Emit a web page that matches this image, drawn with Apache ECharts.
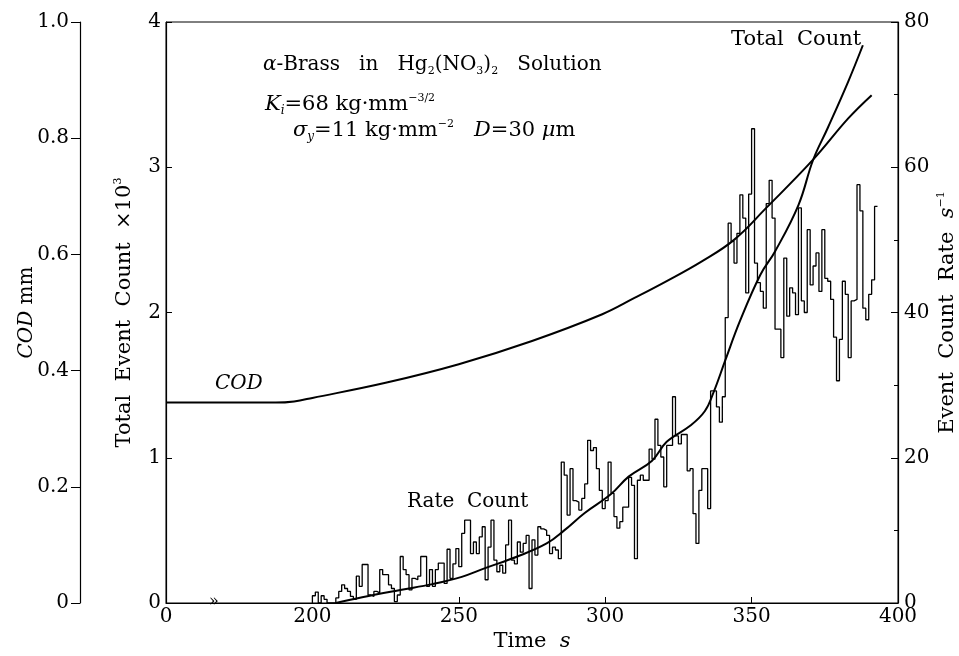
<!DOCTYPE html>
<html>
<head>
<meta charset="utf-8">
<script src="https://cdn.jsdelivr.net/npm/echarts@6/dist/echarts.min.js"></script>
<style>
  html, body { margin: 0; padding: 0; background: #fff; }
  #chart { width: 959px; height: 656px; }
</style>
</head>
<body>
<div id="chart"></div>
<script>
// time axis is broken: 0..200 s is squeezed into one tick step
var timeTicks = [0, 200, 250, 300, 350, 400];

// COD (mm)
var codTimes = [0, 150, 175, 200, 225, 250, 275, 299, 310, 321, 333, 344, 355, 371, 383, 391];
var codValues = [0.345, 0.345, 0.347, 0.353, 0.379, 0.411, 0.451, 0.497, 0.525, 0.554, 0.588, 0.625, 0.68, 0.763, 0.834, 0.874];

// total event count (x10^3)
var totalTimes = [208, 217, 230, 241, 251, 259, 270, 280, 286, 293, 302, 308, 316, 321, 329, 334, 337, 341, 346, 353, 358, 366, 371, 376, 383, 388];
var totalValues = [0, 0.04, 0.09, 0.13, 0.18, 0.24, 0.32, 0.41, 0.50, 0.62, 0.75, 0.87, 0.98, 1.11, 1.22, 1.32, 1.45, 1.67, 1.94, 2.26, 2.42, 2.74, 3.05, 3.27, 3.59, 3.84];

// event count rate (1/s), one value per 1 s bin starting at rateStart
var rateStart = 200;
var rateValues = [
  1.0, 1.5, 0, 1.0, 0.5, 0, 0, 0, 0.7, 1.6,
  2.5, 2.0, 1.6, 0.9, 0.5, 3.7, 2.3, 5.3, 5.3, 1.1,
  0.9, 1.6, 1.4, 4.6, 3.9, 3.9, 2.5, 2.0, 0.2, 1.1,
  6.4, 4.6, 3.9, 1.8, 3.4, 3.2, 3.7, 6.4, 6.4, 2.3,
  4.6, 2.3, 4.6, 5.5, 5.5, 2.7, 7.4, 3.4, 5.4, 7.5,
  5.0, 9.6, 11.4, 11.4, 6.8, 8.4, 6.8, 9.1, 10.5, 3.2,
  7.7, 11.4, 5.9, 4.3, 5.2, 4.1, 8.0, 11.4, 5.9, 5.4,
  8.4, 7.0, 8.2, 9.3, 2.0, 8.7, 6.6, 10.5, 10.2, 10.0,
  9.3, 6.8, 7.7, 7.3, 6.1, 19.4, 17.6, 12.1, 18.5, 14.1,
  13.9, 12.8, 14.4, 16.4, 22.4, 21.0, 21.4, 18.5, 15.5, 13.0,
  14.1, 19.4, 15.1, 11.9, 10.3, 11.2, 13.2, 13.2, 17.3, 16.2,
  6.1, 16.9, 17.6, 16.9, 16.9, 21.2, 19.8, 25.3, 21.7, 20.1,
  16.0, 21.7, 21.7, 28.4, 23.0, 21.9, 23.2, 23.2, 18.2, 18.5,
  12.3, 8.2, 15.5, 18.5, 18.5, 13.0, 29.2, 29.2, 27.0, 24.9,
  28.4, 39.3, 52.3, 49.8, 46.8, 50.9, 56.2, 53.0, 42.7, 56.3,
  65.3, 46.8, 44.1, 42.9, 40.6, 55.0, 58.2, 53.0, 37.7, 37.7,
  33.8, 47.5, 39.5, 43.4, 42.7, 39.7, 54.4, 41.6, 40.0, 51.4,
  43.8, 46.4, 48.2, 42.9, 51.4, 44.7, 44.3, 41.8, 36.6, 30.6,
  36.3, 44.3, 42.5, 33.8, 41.6, 41.8, 57.6, 54.0, 40.6, 39.0,
  42.5, 44.5, 54.6
];

var FONT = '"DejaVu Serif", "Liberation Serif", serif';

// 0..200 s is drawn in the space of one 50 s step
function toAxis(t) {
  return t < 200 ? 150 + t / 4 : t;
}

var codData = codTimes.map(function (t, i) { return [toAxis(t), codValues[i]]; });
var totalData = totalTimes.map(function (t, i) { return [toAxis(t), totalValues[i]]; });
var rateData = [[rateStart, 0]];
rateValues.forEach(function (v, i) { rateData.push([rateStart + i, v]); });
rateData.push([rateStart + rateValues.length, rateValues[rateValues.length - 1]]);

function makeRich(size) {
  return {
    i: { fontFamily: FONT, fontSize: size, fontStyle: 'italic', lineHeight: 24 },
    n: { fontFamily: FONT, fontSize: size, lineHeight: 24 },
    sup: { fontFamily: FONT, fontSize: 11, lineHeight: 11, verticalAlign: 'top' },
    sub: { fontFamily: FONT, fontSize: 11, lineHeight: 11, verticalAlign: 'bottom' },
    isub: { fontFamily: FONT, fontSize: 12, fontStyle: 'italic', lineHeight: 12, verticalAlign: 'bottom' }
  };
}
var rich = makeRich(20);
var richBig = makeRich(21);

var chart = echarts.init(document.getElementById('chart'));
var option = {
  backgroundColor: '#fff',
  animation: false,
  grid: {
    left: 166, right: 61, top: 22, bottom: 53,
    outerBoundsMode: 'none', containLabel: false,
    show: true, borderColor: '#000', borderWidth: 1
  },
  xAxis: {
    type: 'value',
    min: 150, max: 400, interval: 50,
    name: '{n|Time  }{i|s}',
    nameLocation: 'middle',
    nameGap: 27,
    nameMoveOverlap: false,
    nameTextStyle: { rich: richBig },
    axisLine: { show: true, lineStyle: { color: '#000', width: 1.2 } },
    axisTick: { show: true, inside: true, length: 6, lineStyle: { color: '#000' } },
    axisLabel: {
      color: '#000', fontFamily: FONT, fontSize: 20, margin: 4,
      formatter: function (v) { return v === 150 ? String(timeTicks[0]) : String(v); }
    },
    splitLine: { show: false }
  },
  yAxis: [
    {
      type: 'value', position: 'left', offset: 86,
      min: 0, max: 1, interval: 0.2,
      name: '{i|COD}{n| mm}',
      nameLocation: 'middle', nameRotate: 90, nameGap: 41,
      nameMoveOverlap: false,
      nameTextStyle: { rich: rich },
      axisLine: { show: true, lineStyle: { color: '#000', width: 1.2 } },
      axisTick: { show: true, inside: false, length: 9, lineStyle: { color: '#000' } },
      axisLabel: {
        color: '#000', fontFamily: FONT, fontSize: 20, margin: 11,
        formatter: function (v) { return v === 0 ? '0' : v.toFixed(1); }
      },
      splitLine: { show: false }
    },
    {
      type: 'value', position: 'left',
      min: 0, max: 4, interval: 1,
      name: '{n|Total  Event  Count  ×10}{sup|3}',
      nameLocation: 'middle', nameRotate: 90, nameGap: 29,
      nameMoveOverlap: false,
      nameTextStyle: { rich: richBig },
      axisLine: { show: true, lineStyle: { color: '#000', width: 1.2 } },
      axisTick: { show: true, inside: true, length: 6, lineStyle: { color: '#000' } },
      axisLabel: { color: '#000', fontFamily: FONT, fontSize: 20, margin: 5 },
      splitLine: { show: false }
    },
    {
      type: 'value', position: 'right',
      min: 0, max: 80, interval: 20,
      name: '{n|Event  Count  Rate  }{i|s}{sup|−1}',
      nameLocation: 'middle', nameRotate: 90, nameGap: 38,
      nameMoveOverlap: false,
      nameTextStyle: { rich: richBig },
      axisLine: { show: true, lineStyle: { color: '#000', width: 1.2 } },
      axisTick: { show: true, inside: true, length: 7, lineStyle: { color: '#000' } },
      minorTick: { show: true, splitNumber: 2, length: 4, lineStyle: { color: '#000' } },
      axisLabel: { color: '#000', fontFamily: FONT, fontSize: 20, margin: 6 },
      splitLine: { show: false }
    }
  ],
  series: [
    {
      name: 'COD', type: 'line', yAxisIndex: 0, data: codData,
      smooth: 0.4, symbol: 'none',
      lineStyle: { color: '#000', width: 2 }
    },
    {
      name: 'Total Count', type: 'line', yAxisIndex: 1, data: totalData,
      smooth: 0.4, symbol: 'none',
      lineStyle: { color: '#000', width: 2 }
    },
    {
      name: 'Rate Count', type: 'line', yAxisIndex: 2, data: rateData,
      step: 'end', symbol: 'none',
      lineStyle: { color: '#000', width: 1.3 }
    }
  ],
  graphic: [
    { type: 'text', left: 209, top: 594, style: { text: '»', font: '16px ' + FONT, fill: '#000' } },
    { type: 'text', left: 215, top: 374, style: { text: '{i|COD}', rich: rich } },
    { type: 'text', left: 407, top: 492, style: { text: '{n|Rate  Count}', rich: rich } },
    { type: 'text', left: 731, top: 29, style: { text: '{n|Total  Count}', rich: richBig } },
    { type: 'text', left: 263, top: 55, style: {
      text: '{i|α}{n|-Brass   in   Hg}{sub|2}{n|(NO}{sub|3}{n|)}{sub|2}{n|   Solution}', rich: rich } },
    { type: 'text', left: 265, top: 93, style: {
      text: '{i|K}{isub|i}{n|=68 kg·mm}{sup|−3/2}', rich: richBig } },
    { type: 'text', left: 293, top: 119, style: {
      text: '{i|σ}{isub|y}{n|=11 kg·mm}{sup|−2}{n|   }{i|D}{n|=30 }{i|μ}{n|m}', rich: richBig } }
  ]
};
chart.setOption(option);
</script>
</body>
</html>
